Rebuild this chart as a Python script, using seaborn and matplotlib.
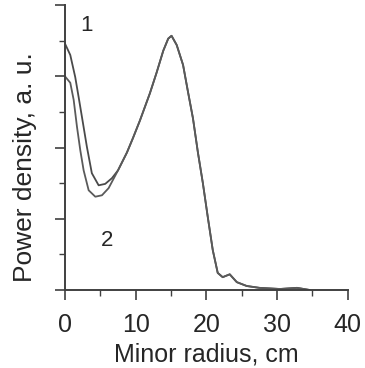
import pandas as pd
import matplotlib
matplotlib.use("Agg")
import matplotlib.pyplot as plt
from matplotlib.ticker import MultipleLocator
import seaborn as sns

# radial power density profiles (arbitrary units, 0..4)
# inner part differs between the two curves
r_1_inner = [0.0, 0.75, 1.45, 1.93, 2.4, 3.1, 3.8, 4.76, 5.69, 6.64]
p_1_inner = [3.46, 3.30, 2.99, 2.71, 2.43, 2.01, 1.64, 1.47, 1.49, 1.57]

r_2_inner = [0.0, 0.75, 1.23, 1.7, 2.17, 2.64, 3.35, 4.29, 5.23, 6.17]
p_2_inner = [3.00, 2.91, 2.67, 2.29, 1.96, 1.68, 1.40, 1.31, 1.33, 1.43]

# outer part where the two curves lie on top of each other
r_outer = [7.5, 8.76, 9.6, 10.6, 12.0, 12.95, 13.9, 14.6, 15.07, 15.8,
           16.7, 17.4, 18.1, 18.8, 19.5, 20.2, 20.9, 21.6, 22.3, 23.3,
           24.3, 25.7, 27.5, 30.4, 32.8, 34.6]
p_outer = [1.68, 1.93, 2.13, 2.38, 2.76, 3.05, 3.36, 3.53, 3.57, 3.44,
           3.16, 2.78, 2.41, 1.93, 1.50, 1.02, 0.56, 0.24, 0.18, 0.22,
           0.11, 0.056, 0.03, 0.014, 0.03, 0.0]

df = pd.concat([
    pd.DataFrame({"r": r_1_inner + r_outer, "p": p_1_inner + p_outer, "curve": "1"}),
    pd.DataFrame({"r": r_2_inner + r_outer, "p": p_2_inner + p_outer, "curve": "2"}),
])

sns.set_style("white")
plt.rcParams["font.family"] = ["Liberation Sans", "DejaVu Sans"]

fig = plt.figure(figsize=(3.65, 3.68), dpi=100)
ax = fig.add_axes([0.178, 0.212, 0.775, 0.774])

sns.lineplot(data=df, x="r", y="p", hue="curve", sort=False,
             palette={"1": "#4a4a4a", "2": "#5a5a5a"}, linewidth=1.3,
             legend=False, ax=ax)

ax.set_xlim(0, 40)
ax.set_ylim(0, 4)
ax.xaxis.set_major_locator(MultipleLocator(10))
ax.xaxis.set_minor_locator(MultipleLocator(5))
ax.yaxis.set_major_locator(MultipleLocator(1))
ax.yaxis.set_minor_locator(MultipleLocator(0.5))
ax.set_yticklabels([])

for s in ["top", "right"]:
    ax.spines[s].set_visible(False)
for s in ["left", "bottom"]:
    ax.spines[s].set_color("#404040")
    ax.spines[s].set_linewidth(1.4)

ax.tick_params(which="major", direction="out", length=7.5, width=1.2,
               color="#404040", labelsize=18, pad=9, bottom=True, left=True)
ax.tick_params(which="minor", direction="out", length=4.5, width=1.0,
               color="#404040", bottom=True, left=True)

ax.set_xlabel("Minor radius, cm", fontsize=18, labelpad=4)
ax.set_ylabel("Power density, a. u.", fontsize=19)
ax.yaxis.set_label_coords(-0.099, 0.43)

ax.text(3.1, 3.72, "1", fontsize=16, ha="center", va="center")
ax.text(5.9, 0.70, "2", fontsize=16, ha="center", va="center")

fig.savefig("out.png", dpi=100)
